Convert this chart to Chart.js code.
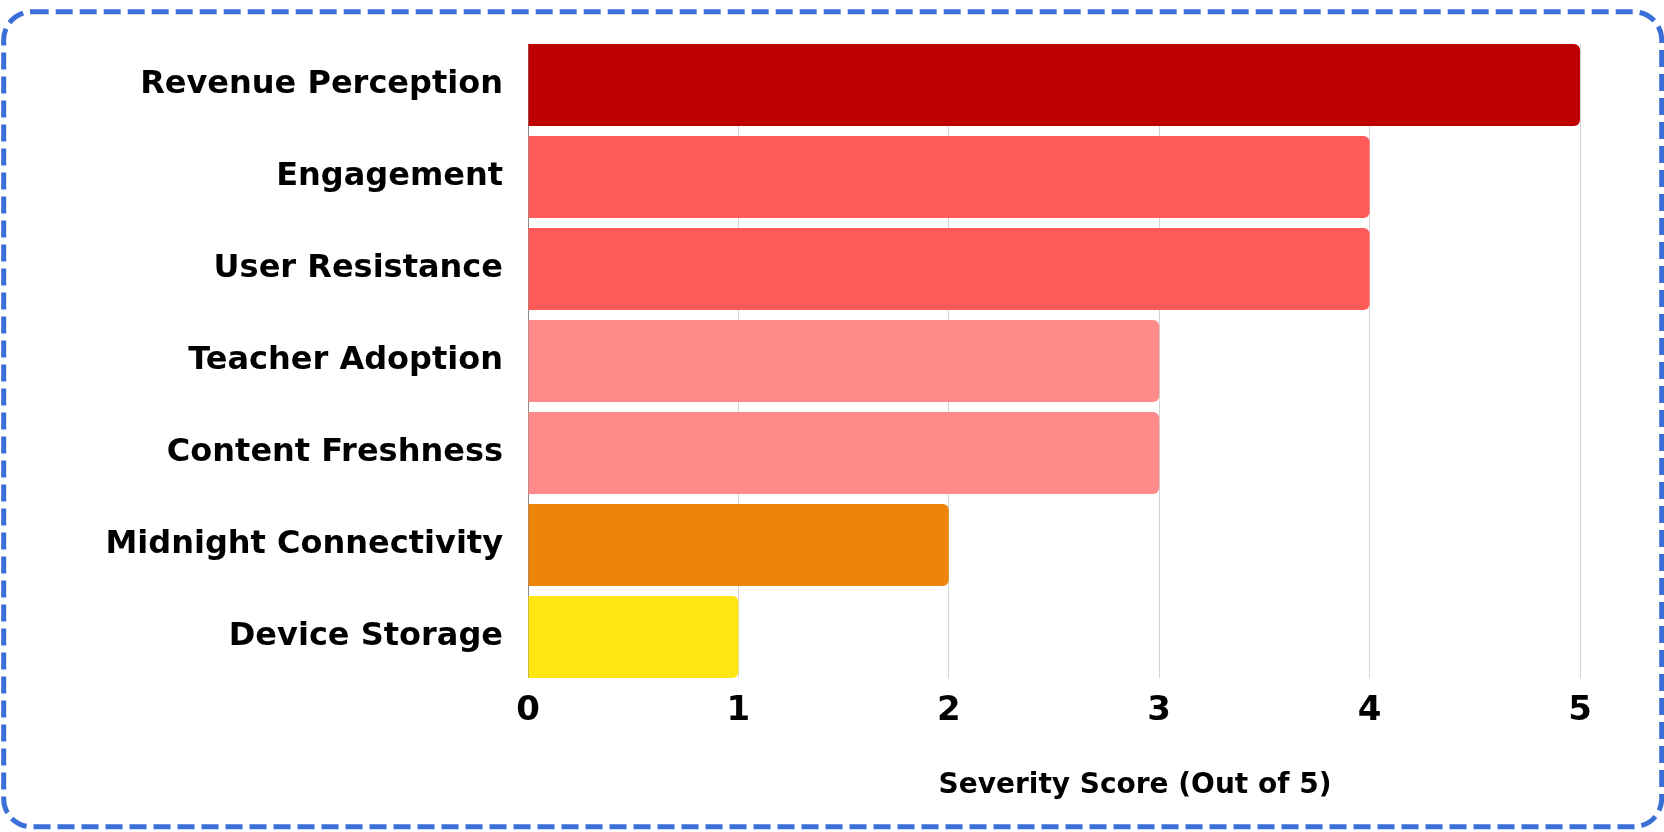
<!DOCTYPE html>
<html>
<head>
<meta charset="utf-8">
<script src="https://cdn.jsdelivr.net/npm/chart.js@4.4.1/dist/chart.umd.min.js"></script>
<style>
  html, body { margin: 0; padding: 0; background: #ffffff; }
  #wrap { position: relative; width: 1664px; height: 832px; }
  #chart { position: absolute; left: 0; top: 0; }
  #frame { position: absolute; left: 0; top: 0; pointer-events: none; }
</style>
</head>
<body>
<div id="wrap">
  <canvas id="chart" width="1664" height="832"></canvas>
  <svg id="frame" width="1664" height="832">
    <rect x="3.7" y="11.8" width="1658" height="815" rx="28" ry="28"
          fill="none" stroke="#3b6fd8" stroke-width="5" stroke-dasharray="17 7"/>
  </svg>
</div>
<script>
const categories = [
  'Revenue Perception',
  'Engagement',
  'User Resistance',
  'Teacher Adoption',
  'Content Freshness',
  'Midnight Connectivity',
  'Device Storage'
];
const severityScores = [5, 4, 4, 3, 3, 2, 1];
const barColors = ['#bd0000', '#ff5a5a', '#ff5a5a', '#ff8a8a', '#ff8a8a', '#ee840a', '#ffe610'];
const xTickValues = [0, 1, 2, 3, 4, 5];
const axisTitle = 'Severity Score (Out of 5)';

const FONT = "'DejaVu Sans', 'Noto Sans', sans-serif";
const BAR_PCT = 82 / 92;

// Trim grid lines / axis line so they span only the bars' extent
const trimGridPlugin = {
  id: 'trimGridPlugin',
  beforeDatasetsDraw(chart) {
    const {ctx, chartArea} = chart;
    const slot = chartArea.height / categories.length;
    const gap = slot * (1 - BAR_PCT) / 2;
    ctx.save();
    ctx.fillStyle = '#ffffff';
    ctx.fillRect(chartArea.left - 2, chartArea.top - 1, chartArea.width + 4, gap + 1);
    ctx.fillRect(chartArea.left - 2, chartArea.bottom - gap, chartArea.width + 4, gap + 1);
    ctx.restore();
  }
};

const axisTitlePlugin = {
  id: 'axisTitlePlugin',
  afterDraw(chart) {
    const ctx = chart.ctx;
    ctx.save();
    ctx.font = "700 28px " + FONT;
    ctx.fillStyle = '#000000';
    ctx.textAlign = 'center';
    ctx.textBaseline = 'middle';
    ctx.fillText(axisTitle, 1135, 786);
    ctx.restore();
  }
};

new Chart(document.getElementById('chart'), {
  type: 'bar',
  data: {
    labels: categories,
    datasets: [{
      data: severityScores,
      backgroundColor: barColors,
      borderWidth: 0,
      borderRadius: 6,
      barPercentage: BAR_PCT,
      categoryPercentage: 1
    }]
  },
  options: {
    indexAxis: 'y',
    responsive: false,
    animation: false,
    layout: { padding: { left: 0, right: 84, top: 39, bottom: 0 } },
    plugins: {
      legend: { display: false },
      tooltip: { enabled: false },
      title: { display: false }
    },
    scales: {
      x: {
        min: 0,
        max: 5,
        afterBuildTicks(scale) {
          scale.ticks = xTickValues.map(v => ({ value: v }));
        },
        afterFit(scale) {
          scale.height = 149;
          scale.paddingLeft = 0;
          scale.paddingRight = 0;
        },
        grid: { color: '#d4d4d4', lineWidth: 1, drawTicks: false },
        border: { display: false },
        ticks: {
          color: '#000000',
          padding: 8,
          font: { family: FONT, size: 34, weight: '700' }
        }
      },
      y: {
        afterFit(scale) {
          scale.width = 528;
          scale.paddingTop = 0;
          scale.paddingBottom = 0;
        },
        grid: { display: false, drawTicks: false },
        border: { display: true, color: '#8a8a8a', width: 1 },
        ticks: {
          color: '#000000',
          padding: 25,
          font: { family: FONT, size: 32, weight: '700' }
        }
      }
    }
  },
  plugins: [trimGridPlugin, axisTitlePlugin]
});
</script>
</body>
</html>
